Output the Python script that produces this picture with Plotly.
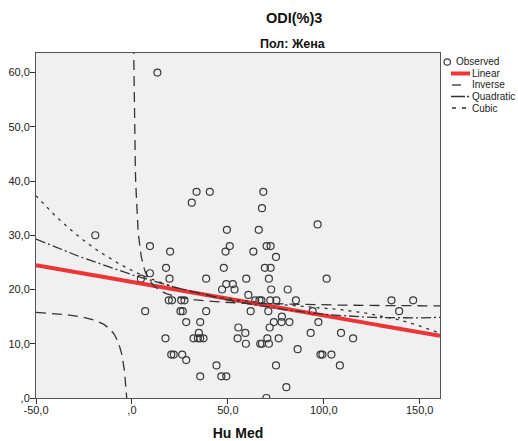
import numpy as np
import plotly.graph_objects as go

# Hu Med (x) and ODI(%)3 (y)
hu_med = [13.3, 33.7, 40.6, 31.2, 49.5, -19.1, 9.4, 19.9, 48.8, 51.0,
          17.8, 47.9, 9.4, 19.6, 38.7, 4.7, 49.2, 47.0, 19.2, 20.9,
          25.7, 27.4, 6.9, 25.3, 26.5, 38.7, 28.3, 35.6, 17.5, 32.1,
          34.4, 35.6, 37.3, 34.9, 20.5, 21.8, 26.2, 28.3, 44.1, 46.6,
          49.2, 35.6, 68.5, 67.8, 66.1, 96.8, 63.3, 70.2, 72.3, 75.1,
          69.3, 72.3, 59.6, 71.4, 101.5, 52.6, 53.5, 72.6, 81.2, 60.7,
          64.3, 66.5, 67.5, 72.1, 75.3, 85.5, 61.9, 71.1, 78.2, 74.0,
          78.0, 82.1, 71.8, 55.5, 59.1, 93.2, 97.2, 55.1, 70.6, 76.5,
          59.4, 66.9, 67.8, 71.4, 86.4, 98.3, 99.3, 104.0, 75.1, 80.5,
          70.1, 135.3, 146.6, 139.3, 109.0, 115.3, 108.4, 94.2]
odi = [60, 38, 38, 36, 31, 30, 28, 27, 27, 28,
       24, 24, 23, 22, 22, 22, 21, 20, 18, 18,
       18, 18, 16, 16, 16, 16, 14, 14, 11, 11,
       11, 11, 11, 12, 8, 8, 8, 7, 6, 4,
       4, 4, 38, 35, 31, 32, 27, 28, 28, 26,
       24, 24, 22, 22, 22, 21, 20, 20, 20, 19,
       18, 18, 18, 18, 18, 18, 16, 16, 15, 14,
       14, 14, 13, 13, 12, 12, 14, 11, 11, 11,
       10, 10, 10, 10, 9, 8, 8, 8, 6, 2,
       0, 18, 18, 16, 12, 11, 6, 16]

# curve estimation coefficients (b0, b1, b2, b3)
linear_coef = [21.4, -0.0619]
inverse_coef = [16.7, 45.7]
quadratic_coef = [22.72, -0.112, 0.000393]
cubic_coef = [23.5, -0.173, 0.00172, -0.0000068]

x_ticks = [-50, 0, 50, 100, 150]
x_ticktext = ['-50,0', ',0', '50,0', '100,0', '150,0']
y_ticks = [0, 10, 20, 30, 40, 50, 60]
y_ticktext = [',0', '10,0', '20,0', '30,0', '40,0', '50,0', '60,0']

legend_names = ['Observed', 'Linear', 'Inverse', 'Quadratic', 'Cubic']

X_MIN, X_MAX = -50, 160.6
Y_MIN, Y_MAX = 0, 63.6

xs = np.linspace(X_MIN, X_MAX, 1054)


def poly(coef, xv):
    return sum(c * xv ** i for i, c in enumerate(coef))


xs_safe = np.where(np.abs(xs) < 0.15, np.nan, xs)
inv_y = inverse_coef[0] + inverse_coef[1] / xs_safe

font = 'Arial, Liberation Sans, sans-serif'
dark = '#333333'
red = 'rgba(236,32,36,0.9)'

fig = go.Figure()
fig.add_trace(go.Scatter(x=hu_med, y=odi, mode='markers', name='Observed',
                         marker=dict(symbol='circle-open', size=7,
                                     color='#3a3a3a', line=dict(width=1.2))))
fig.add_trace(go.Scatter(x=xs, y=poly(linear_coef, xs), mode='lines', name='Linear',
                         line=dict(color=red, width=4)))
fig.add_trace(go.Scatter(x=xs, y=inv_y, mode='lines', name='Inverse',
                         connectgaps=False,
                         line=dict(color=dark, width=1.3, dash='10px,6px')))
fig.add_trace(go.Scatter(x=xs, y=poly(quadratic_coef, xs), mode='lines', name='Quadratic',
                         line=dict(color=dark, width=1.3, dash='10px,3px,2px,3px')))
fig.add_trace(go.Scatter(x=xs, y=poly(cubic_coef, xs), mode='lines', name='Cubic',
                         line=dict(color=dark, width=1.3, dash='3px,5px')))

W, H = 518, 441
ML, MR, MT, MB = 36, 78, 53, 43
PW, PH = W - ML - MR, H - MT - MB


def px(page_x):
    return (page_x - ML) / PW


def py(page_y):
    return (H - MB - page_y) / PH


# hand-made legend (SPSS style, tight rows)
rows = [62, 73.5, 85, 96.5, 108]
shapes = [
    dict(type='circle', xref='paper', yref='paper',
         x0=px(444), x1=px(450.5), y0=py(65.2), y1=py(58.8),
         line=dict(color='#3a3a3a', width=1.2)),
    dict(type='line', xref='paper', yref='paper', x0=px(451), x1=px(470),
         y0=py(rows[1]), y1=py(rows[1]), line=dict(color=red, width=4)),
    dict(type='line', xref='paper', yref='paper', x0=px(452), x1=px(461),
         y0=py(rows[2]), y1=py(rows[2]), line=dict(color=dark, width=1.3)),
    dict(type='line', xref='paper', yref='paper', x0=px(451), x1=px(470),
         y0=py(rows[3]), y1=py(rows[3]),
         line=dict(color=dark, width=1.3, dash='14px,2px,2px,3px')),
    dict(type='line', xref='paper', yref='paper', x0=px(452), x1=px(468),
         y0=py(rows[4]), y1=py(rows[4]),
         line=dict(color=dark, width=1.3, dash='4px,6px')),
]
annotations = [
    dict(text='<b>ODI(%)3</b>', x=px(294), y=1, xref='paper', yref='paper',
         yanchor='middle', yshift=35, showarrow=False,
         font=dict(size=14.5, color='#111')),
    dict(text='<b>Пол: Жена</b>', x=px(293), y=1, xref='paper', yref='paper',
         yanchor='middle', yshift=9, showarrow=False,
         font=dict(size=12.5, color='#111')),
]
for i, name in enumerate(legend_names):
    annotations.append(dict(text=name, xref='paper', yref='paper',
                            x=px(454 if i == 0 else 470), y=py(rows[i]),
                            xanchor='left', yanchor='middle', showarrow=False,
                            font=dict(size=10, color='#222')))

fig.update_layout(
    width=W, height=H,
    margin=dict(l=ML, r=MR, t=MT, b=MB, autoexpand=False),
    paper_bgcolor='white',
    plot_bgcolor='#f0f0f0',
    font=dict(family=font, size=11, color='#222'),
    showlegend=False,
    shapes=shapes,
    annotations=annotations,
)
fig.update_xaxes(range=[X_MIN, X_MAX], tickvals=x_ticks, ticktext=x_ticktext,
                 showgrid=False, zeroline=False, ticks='outside', ticklen=5,
                 tickcolor=dark, showline=True, linecolor='#555', mirror=True,
                 automargin=False, ticklabelstandoff=-3,
                 title=dict(text='<b>Hu Med</b>', font=dict(size=14, color='#111'),
                            standoff=13))
fig.update_yaxes(range=[Y_MIN, Y_MAX], tickvals=y_ticks, ticktext=y_ticktext,
                 showgrid=False, zeroline=False, ticks='outside', ticklen=5,
                 tickcolor=dark, showline=True, linecolor='#555', mirror=True,
                 automargin=False, ticklabelstandoff=-2)

# drop the default 8px body margin so the figure sits at the window corner
fig.write_html("out.html", config={'displayModeBar': False},
               post_script="document.body.style.margin='0';")
